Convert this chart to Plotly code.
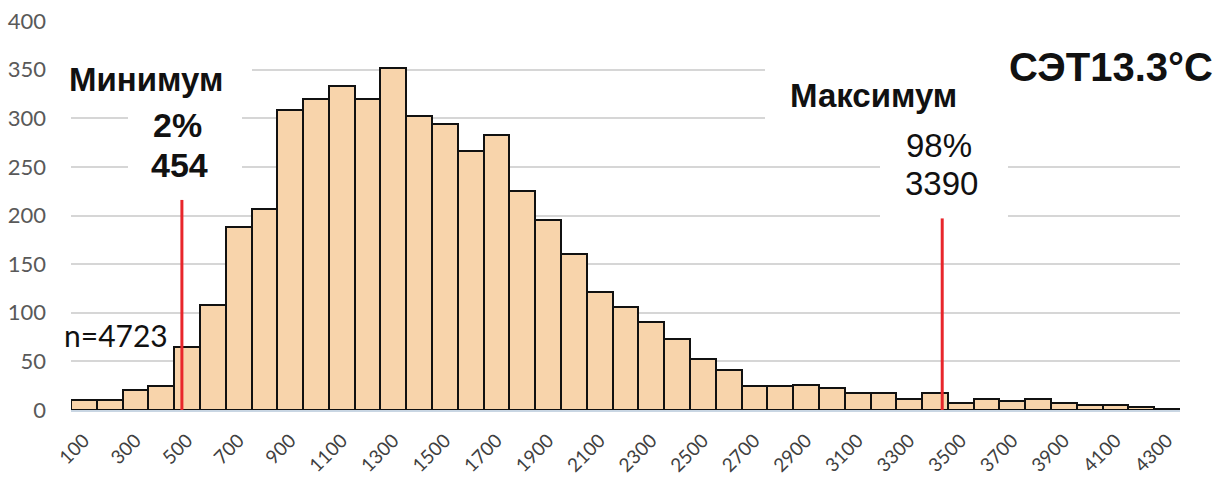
import plotly.graph_objects as go

# ---- data ----
bins = list(range(100, 4400, 100))
counts = [10, 10, 21, 25, 65, 108, 188, 207, 308, 320,
          333, 320, 352, 302, 294, 266, 283, 225, 195, 160,
          121, 106, 91, 73, 52, 41, 25, 25, 26, 23,
          18, 18, 11, 18, 7, 11, 9, 11, 7, 5,
          5, 3, 1]
tick_vals = list(range(100, 4400, 200))
tick_text = [str(v) for v in tick_vals]
y_ticks = list(range(0, 401, 50))

min_line_x, min_line_top = 480, 216
max_line_x, max_line_top = 3428, 197

# ---- geometry helpers (layout only) ----
W, H = 1224, 488
ML, MR, MT, MB = 71, 44, 21, 78
X0, X1 = 50, 4350
Y0, Y1 = 0, 400
PW = W - ML - MR
PH = H - MT - MB


def dx(px):
    return X0 + (px - ML) / PW * (X1 - X0)


def dy(py):
    return Y0 + (H - MB - py) / PH * (Y1 - Y0)


def paper_x(px):
    return (px - ML) / PW


def paper_y(py):
    return (H - MB - py) / PH


fig = go.Figure()
fig.add_trace(go.Bar(
    x=bins, y=counts, width=100,
    marker=dict(color="#F8D4AB", line=dict(color="#111111", width=2)),
    hoverinfo="x+y",
))

# white boxes that interrupt gridlines behind text
boxes = [
    (60, 252, 55, 100),
    (128, 242, 105, 190),
    (765, 1224, 60, 125),
    (965, 1176, 8, 45),
    (880, 1008, 128, 226),
]
for x_a, x_b, y_a, y_b in boxes:
    fig.add_shape(type="rect", xref="x", yref="y",
                  x0=dx(x_a), x1=dx(x_b), y0=dy(y_b), y1=dy(y_a),
                  fillcolor="white", line=dict(width=0), layer="between")

# red marker lines
for lx, top in [(min_line_x, min_line_top), (max_line_x, max_line_top)]:
    fig.add_shape(type="line", xref="x", yref="y", x0=lx, x1=lx, y0=0, y1=top,
                  line=dict(color="#E8262B", width=3), layer="above")

ARIAL = "Liberation Sans, Arial, sans-serif"
texts = [
    ("Минимум", 145.5, 79, 33, True, ARIAL),
    ("2%", 177, 125, 34, True, ARIAL),
    ("454", 179.5, 165, 34, True, ARIAL),
    ("n=4723", 116, 335, 30, False, "Lato, sans-serif"),
    ("Максимум", 873, 95, 33, True, ARIAL),
    ("98%", 939, 145, 33, False, ARIAL),
    ("3390", 941.5, 183, 33, False, ARIAL),
    ("СЭТ13.3°C", 1111, 67, 40, True, ARIAL),
]
for t, px, py, size, bold, fam in texts:
    fig.add_annotation(
        text=f"<b>{t}</b>" if bold else t,
        xref="paper", yref="paper", x=paper_x(px), y=paper_y(py),
        xanchor="center", yanchor="middle", showarrow=False,
        font=dict(size=size, color="#111111", family=fam),
    )

fig.update_layout(
    width=W, height=H,
    margin=dict(l=ML, r=MR, t=MT, b=MB, autoexpand=False),
    paper_bgcolor="white", plot_bgcolor="white",
    showlegend=False, bargap=0,
    xaxis=dict(
        range=[X0, X1], tickvals=tick_vals, ticktext=tick_text,
        tickangle=-45, tickfont=dict(size=19, color="#404040", family="Lato, sans-serif"),
        showgrid=False, zeroline=False, showline=True, linecolor="#C9D6E3", linewidth=2,
        ticks="", ticklabelstandoff=10, automargin=False,
    ),
    yaxis=dict(
        range=[Y0, Y1], tickvals=y_ticks,
        tickfont=dict(size=22, color="#595959", family="Lato, sans-serif"),
        showgrid=True, gridcolor="#D6D6D6", gridwidth=1.5, zeroline=False,
        ticks="", ticklabelstandoff=24, automargin=False,
    ),
)

fig.write_html("out.html", config={"displayModeBar": False},
               post_script="document.body.style.margin='0';document.body.style.overflow='hidden';")
